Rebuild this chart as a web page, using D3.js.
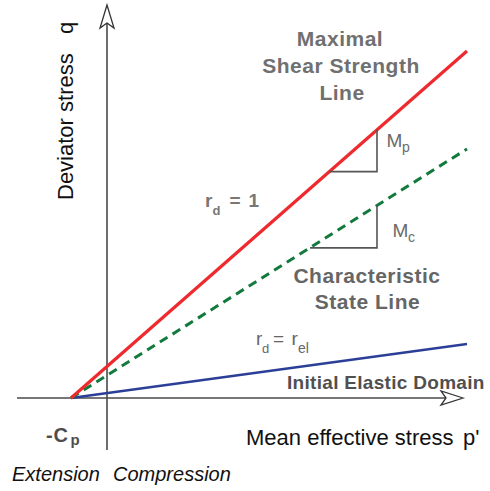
<!DOCTYPE html>
<html>
<head>
<meta charset="utf-8">
<script src="https://cdn.jsdelivr.net/npm/d3@7/dist/d3.min.js"></script>
<style>
  html, body { margin: 0; padding: 0; background: #fff; }
  svg { display: block; }
  text { font-family: "Liberation Sans", Arial, Helvetica, sans-serif; }
</style>
</head>
<body>
<div id="chart"></div>
<script>
// Stress-path diagram in the p'-q plane: three straight lines that all start
// from the apex at p' = -Cp, q = 0.

// Mean effective stress p' (normalised by Cp) at each line's two ends
const lineNames = ["maximal", "characteristic", "elastic"];
const lineP = [[-1, 10], [-1, 10], [-1, 10]];
// Deviator stress q at the same ends
const lineQ = [[0, 9.64], [0, 6.92], [0, 1.5]];

// Slope triangles: run along p', rise along q
const triNames = ["Mp", "Mc"];
const triP = [[6.18, 7.5], [5.64, 7.5]];
const triQ = [[6.29, 7.45], [4.17, 5.34]];

const W = 490, H = 491;
const svg = d3.select("#chart").append("svg")
  .attr("width", W).attr("height", H)
  .attr("viewBox", `0 0 ${W} ${H}`);

const x = d3.scaleLinear().domain([-1, 10]).range([71, 467]);
const y = d3.scaleLinear().domain([0, 9.64]).range([398, 51]);

const axisColor = "#4a4a4a";

// ---- axes with open arrowheads ----
const x0 = x(0), y0 = y(0);
svg.append("line")
  .attr("x1", 17).attr("y1", y0).attr("x2", 459).attr("y2", y0)
  .attr("stroke", axisColor).attr("stroke-width", 1.6);
svg.append("line")
  .attr("x1", x0).attr("y1", 450).attr("x2", x0).attr("y2", 9)
  .attr("stroke", axisColor).attr("stroke-width", 1.6);

// horizontal arrowhead (tip to the right)
svg.append("path")
  .attr("d", `M463,${y0} L441,${y0 - 7} L446,${y0} L441,${y0 + 7} Z`)
  .attr("fill", "#fff").attr("stroke", "#333").attr("stroke-width", 1.3)
  .attr("stroke-linejoin", "miter");
// vertical arrowhead (tip upward)
svg.append("path")
  .attr("d", `M${x0},5 L${x0 - 7},28 L${x0},23 L${x0 + 7},28 Z`)
  .attr("fill", "#fff").attr("stroke", "#333").attr("stroke-width", 1.3)
  .attr("stroke-linejoin", "miter");

// ---- strength / state lines ----
const lineStyle = {
  maximal:        { stroke: "#ee2a2e", width: 3.2, dash: null },
  characteristic: { stroke: "#117a3c", width: 3,   dash: "9,6" },
  elastic:        { stroke: "#2c3f98", width: 2.6, dash: null }
};
const lineGen = d3.line().x(d => x(d[0])).y(d => y(d[1]));

const lines = lineNames.map((name, i) => ({
  name,
  pts: lineP[i].map((p, j) => [p, lineQ[i][j]])
}));
// draw elastic first so the red line sits on top near the apex
[2, 1, 0].forEach(i => {
  const l = lines[i], s = lineStyle[l.name];
  svg.append("path")
    .attr("d", lineGen(l.pts))
    .attr("fill", "none")
    .attr("stroke", s.stroke)
    .attr("stroke-width", s.width)
    .attr("stroke-dasharray", s.dash);
});

// ---- slope triangles (horizontal run + vertical rise) ----
triNames.forEach((name, i) => {
  const [pa, pb] = triP[i];
  const [qa, qb] = triQ[i];
  svg.append("path")
    .attr("d", `M${x(pa)},${y(qa)} L${x(pb)},${y(qa)} L${x(pb)},${y(qb)}`)
    .attr("fill", "none").attr("stroke", "#555").attr("stroke-width", 1.6);
});

// ---- text ----
function label(txt, px, py, opts = {}) {
  return svg.append("text")
    .attr("x", px).attr("y", py)
    .attr("text-anchor", opts.anchor || "start")
    .attr("font-size", opts.size || 20)
    .attr("font-weight", opts.weight || "normal")
    .attr("font-style", opts.style || "normal")
    .attr("letter-spacing", opts.ls || 0)
    .attr("fill", opts.fill || "#111")
    .text(txt);
}

const headGray = "#707070";
label("Maximal", 340, 46, { anchor: "middle", size: 21, weight: "bold", fill: headGray, ls: 0.5 });
label("Shear Strength", 341, 73, { anchor: "middle", size: 21, weight: "bold", fill: headGray, ls: 0.5 });
label("Line", 342, 99.5, { anchor: "middle", size: 21, weight: "bold", fill: headGray, ls: 0.5 });

label("Characteristic", 367, 282.5, { anchor: "middle", size: 21, weight: "bold", fill: "#666", ls: 0.5 });
label("State Line", 367.5, 308.5, { anchor: "middle", size: 21, weight: "bold", fill: "#666", ls: 0.5 });

label("Initial Elastic Domain", 287, 388.5, { size: 19, weight: "bold", fill: "#505050", ls: 0.3 });

// r_d = 1
label("r", 205, 207, { size: 19, weight: "bold", fill: "#777" });
label("d", 212.5, 215, { size: 13, weight: "bold", fill: "#777" });
label("=", 229.5, 207, { size: 19, weight: "bold", fill: "#777" });
label("1", 248.5, 207, { size: 19, weight: "bold", fill: "#777" });

// r_d = r_el
label("r", 256, 345, { size: 19, fill: "#666" });
label("d", 262, 353, { size: 13, fill: "#666" });
label("=", 273, 345, { size: 19, fill: "#666" });
label("r", 291.5, 345, { size: 19, fill: "#666" });
label("el", 298, 353, { size: 14, fill: "#666" });

// slope labels
label("M", 386.5, 147, { size: 19, fill: "#6a6a6a" });
label("p", 402, 151.5, { size: 14, fill: "#6a6a6a" });
label("M", 392.5, 237, { size: 19, fill: "#6a6a6a" });
label("c", 408, 241.5, { size: 14, fill: "#6a6a6a" });

// apex
label("-C", 46, 441.5, { size: 20, weight: "bold", fill: "#4d4d4d", ls: 0.8 });
label("p", 70.5, 444.5, { size: 15, weight: "bold", fill: "#4d4d4d" });

// axis titles
label("Mean effective stress", 246, 445, { size: 22, fill: "#111" });
label("p'", 463, 445, { size: 22, fill: "#111" });

svg.append("text")
  .attr("transform", "translate(73,200) rotate(-90)")
  .attr("font-size", 22).attr("fill", "#111")
  .text("Deviator stress");
svg.append("text")
  .attr("transform", "translate(73,34) rotate(-90)")
  .attr("font-size", 22).attr("fill", "#111")
  .text("q");

// sign convention along p'
label("Extension", 12, 481, { size: 20, style: "italic", fill: "#111" });
label("Compression", 113, 481, { size: 20, style: "italic", fill: "#111" });
</script>
</body>
</html>
